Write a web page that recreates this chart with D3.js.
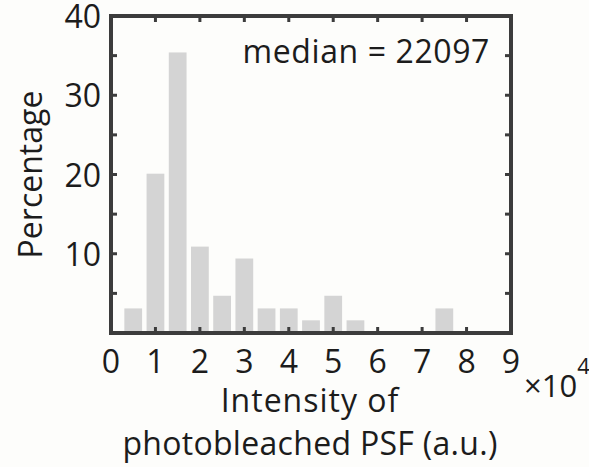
<!DOCTYPE html>
<html>
<head>
	<meta charset="utf-8">
	<title>Photobleached PSF intensity histogram</title>
	<script src="https://d3js.org/d3.v7.min.js"></script>
	<style>
		body { margin: 0; background: #fdfdfb; }
		text { font-family: "Open Sans", sans-serif; fill: #1c1c1c; }
	</style>
</head>
<body>
	<div id="chart"></div>
	<script>
		// Data (bin centres in units of 10^4, percentage per bin)
		var binCenters = [0.5, 1.0, 1.5, 2.0, 2.5, 3.0, 3.5, 4.0, 4.5, 5.0, 5.5, 6.0, 6.5, 7.0, 7.5, 8.0];
		var percents   = [3.1, 20.1, 35.4, 10.9, 4.7, 9.4, 3.1, 3.1, 1.6, 4.7, 1.6, 0, 0, 0, 3.1, 0];
		var xTicks = [0, 1, 2, 3, 4, 5, 6, 7, 8, 9];
		var yTicks = [10, 20, 30, 40];
		var yMinorTicks = [5, 10, 15, 20, 25, 30, 35];
		var medianLabel = "median = 22097";

		// Chart dimensions
		var width = 589, height = 467;
		var margin = { top: 16, right: 78, bottom: 134, left: 111 };

		// Scales
		var x = d3.scaleLinear()
			.domain([0, 9])
			.range([margin.left, width - margin.right]);
		var y = d3.scaleLinear()
			.domain([0, 40])
			.range([height - margin.bottom, margin.top]);

		var svg = d3.select("#chart")
			.append("svg")
			.attr("width", width)
			.attr("height", height);

		// Bars
		var binW = 0.5 * 0.8;
		svg.selectAll(".bar")
			.data(binCenters)
			.enter()
			.append("rect")
			.attr("x", (d, i) => x(d - binW / 2))
			.attr("width", x(binW) - x(0))
			.attr("y", (d, i) => y(percents[i]))
			.attr("height", (d, i) => y(0) - y(percents[i]))
			.attr("fill", "#d4d4d4");

		// Inner ticks on all four sides
		var tl = 6;
		var tickG = svg.append("g").attr("stroke", "#3c3c3c").attr("stroke-width", 3);
		xTicks.slice(1, -1).forEach(function(t) {
			tickG.append("line").attr("x1", x(t)).attr("x2", x(t)).attr("y1", y(0)).attr("y2", y(0) - tl);
			tickG.append("line").attr("x1", x(t)).attr("x2", x(t)).attr("y1", y(40)).attr("y2", y(40) + tl);
		});
		yMinorTicks.forEach(function(t) {
			tickG.append("line").attr("x1", x(0)).attr("x2", x(0) + tl).attr("y1", y(t)).attr("y2", y(t));
			tickG.append("line").attr("x1", x(9)).attr("x2", x(9) - tl).attr("y1", y(t)).attr("y2", y(t));
		});

		// Frame
		svg.append("rect")
			.attr("x", x(0))
			.attr("y", y(40))
			.attr("width", x(9) - x(0))
			.attr("height", y(0) - y(40))
			.attr("fill", "none")
			.attr("stroke", "#3c3c3c")
			.attr("stroke-width", 4);

		// Tick labels
		svg.selectAll(".xlab")
			.data(xTicks)
			.enter()
			.append("text")
			.attr("x", d => x(d))
			.attr("y", y(0) + 40)
			.attr("text-anchor", "middle")
			.attr("font-size", 32)
			.text(d => d);

		svg.selectAll(".ylab")
			.data(yTicks)
			.enter()
			.append("text")
			.attr("x", x(0) - 10)
			.attr("y", d => y(d) + 12)
			.attr("text-anchor", "end")
			.attr("font-size", 32)
			.text(d => d);

		// Exponent label
		var expo = svg.append("text")
			.attr("x", 524)
			.attr("y", 397)
			.attr("font-size", 31);
		expo.append("tspan").text("×10");
		expo.append("tspan").attr("dy", -23).attr("font-size", 22).text("4");

		// Axis titles
		svg.append("text")
			.attr("x", 310)
			.attr("y", 412)
			.attr("text-anchor", "middle")
			.attr("font-size", 32)
			.attr("letter-spacing", 1)
			.text("Intensity of");
		svg.append("text")
			.attr("x", 310)
			.attr("y", 455)
			.attr("text-anchor", "middle")
			.attr("font-size", 32)
			.attr("letter-spacing", 0.3)
			.text("photobleached PSF (a.u.)");

		svg.append("text")
			.attr("transform", "translate(42," + ((y(0) + y(40)) / 2) + ") rotate(-90)")
			.attr("text-anchor", "middle")
			.attr("font-size", 32)
			.text("Percentage");

		// Median annotation
		svg.append("text")
			.attr("x", 490)
			.attr("y", 63)
			.attr("text-anchor", "end")
			.attr("font-size", 32)
			.attr("letter-spacing", 0.6)
			.text(medianLabel);
	</script>
</body>
</html>
